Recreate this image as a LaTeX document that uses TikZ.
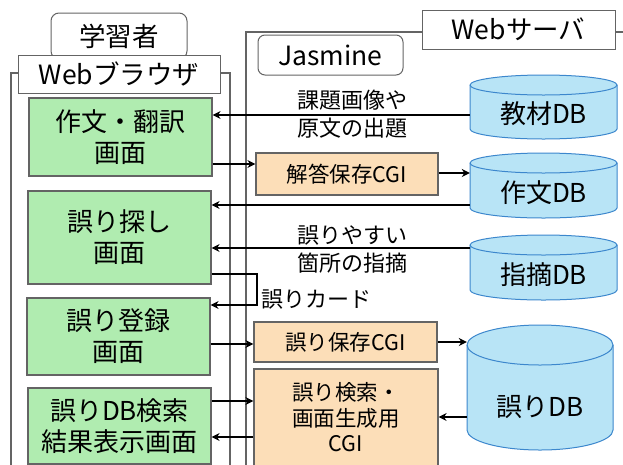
\documentclass[tikz,border=0pt]{standalone}
\usepackage{fontspec}
\setmainfont{Noto Sans CJK JP}
\usetikzlibrary{arrows.meta}
\definecolor{gfill}{RGB}{176,236,176}
\definecolor{ofill}{RGB}{252,222,184}
\definecolor{cfill}{RGB}{184,228,246}
\definecolor{cline}{RGB}{60,135,205}
\definecolor{framec}{RGB}{100,100,100}
\newcommand\dbcyl[5]{%
  \pgfmathsetmacro\cylrx{(#3-#1)/2}%
  \filldraw[cyl] ({#1},{#2+#5}) -- ({#1},{#4-#5}) arc[start angle=180,end angle=360,x radius=\cylrx pt,y radius=#5pt] -- ({#3},{#2+#5}) arc[start angle=0,end angle=180,x radius=\cylrx pt,y radius=#5pt] -- cycle;
  \draw[cyl,fill=none] ({#1},{#2+#5}) arc[start angle=180,end angle=360,x radius=\cylrx pt,y radius=#5pt];
}
\begin{document}
\begin{tikzpicture}[x=1pt,y=-1pt,
  screen/.style={draw=framec, line width=1.2pt, fill=gfill, minimum width=183pt, align=center, font=\fontsize{26}{31}\selectfont, inner sep=0pt},
  cgi/.style={draw=framec, line width=1.2pt, fill=ofill, align=center, font=\fontsize{21.5}{25.5}\selectfont, inner sep=0pt},
  tab/.style={draw=framec, line width=1pt, fill=white, font=\fontsize{26.5}{28}\selectfont, inner sep=0pt},
  lbl/.style={align=center, font=\fontsize{22}{28}\selectfont, inner sep=0pt},
  dbtext/.style={font=\fontsize{26}{30}\selectfont, inner sep=0pt},
  arr/.style={line width=1.6pt, -{Stealth[length=8pt,width=8pt]}},
  cyl/.style={draw=cline, line width=1pt, fill=cfill},
  framel/.style={draw=framec, line width=1.2pt},
]
\clip (0,0) rectangle (623,464);
\fill[white] (0,0) rectangle (623,464);
% frames
\draw[framel] (11,480) -- (11,73) -- (230,73) -- (230,480);
\draw[framel] (246,480) -- (246,32) -- (640,32);
% tabs
\node[tab, rounded corners=8pt, minimum width=136pt, minimum height=46pt] (learner) at (119,36) {学習者};
\node[tab, minimum width=202pt, minimum height=38pt] (browser) at (119,74) {Webブラウザ};
\node[tab, minimum width=193pt, minimum height=39pt] (server) at (518.5,29.5) {Webサーバ};
\node[tab, rounded corners=7pt, minimum width=145pt, minimum height=40pt] (jasmine) at (330.5,55) {Jasmine};
% screens
\node[screen, minimum height=78pt] (g1) at (120.5,137) {作文・翻訳\\画面};
\node[screen, minimum height=93pt] (g2) at (119.5,237.5) {誤り探し\\画面};
\node[screen, minimum height=77pt] (g3) at (118.5,336.5) {誤り登録\\画面};
\node[screen, minimum height=76pt] (g4) at (119.5,426) {誤りDB検索\\結果表示画面};
% cgi
\node[cgi, minimum width=182pt, minimum height=42pt] (o1) at (347,174) {解答保存CGI};
\node[cgi, minimum width=183pt, minimum height=40pt] (o2) at (345.5,342) {誤り保存CGI};
\node[cgi, minimum width=184pt, minimum height=97pt] (o3) at (346,417.5) {誤り検索・\\画面生成用\\CGI};
% databases
\dbcyl{470}{75}{617}{139}{10}
\dbcyl{470}{153}{617}{218}{10}
\dbcyl{470}{235}{617}{300}{10}
\dbcyl{467}{325}{613}{450}{20}
\node[dbtext, minimum width=147pt] (kyozai) at (543.5,114) {教材DB};
\node[dbtext, minimum width=147pt] (sakubun) at (543.5,193) {作文DB};
\node[dbtext, minimum width=147pt] (shiteki) at (543.5,275) {指摘DB};
\node[dbtext, minimum width=146pt] (ayamari) at (540,407) {誤りDB};
% labels
\node[lbl] (lab1) at (352,114) {課題画像や\\原文の出題};
\node[lbl] (lab2) at (352,249) {誤りやすい\\箇所の指摘};
\node[lbl, anchor=west] (card) at (261,299) {誤りカード};
% arrows
\coordinate (cardturn) at (257,0);
\draw[arr] (kyozai.west |- 0,115) -- (g1.east |- 0,115);
\draw[arr] (g1.east |- 0,164) -- (o1.west |- 0,164);
\draw[arr] (o1.east |- 0,173) -- (sakubun.west |- 0,173);
\draw[arr] (sakubun.west |- 0,205) -- (g2.east |- 0,205);
\draw[arr] (shiteki.west |- 0,248) -- (g2.east |- 0,248);
\draw[arr] (g2.east |- 0,274) -| (cardturn |- 0,305) -- (g3.east |- 0,305);
\draw[arr] (g3.east |- 0,344) -- (o2.west |- 0,344);
\draw[arr] (o2.east |- 0,342) -- (ayamari.west |- 0,342);
\draw[arr] (g4.east |- 0,401) -- (o3.west |- 0,401);
\draw[arr] (o3.west |- 0,437) -- (g4.east |- 0,437);
\draw[arr] (ayamari.west |- 0,417) -- (o3.east |- 0,417);
\end{tikzpicture}
\end{document}
